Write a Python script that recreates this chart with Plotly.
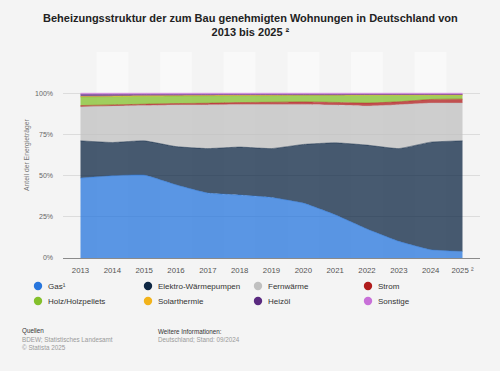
import plotly.graph_objects as go

years = [2013, 2014, 2015, 2016, 2017, 2018, 2019, 2020, 2021, 2022, 2023, 2024, 2025]
year_labels = ["2013", "2014", "2015", "2016", "2017", "2018", "2019", "2020",
               "2021", "2022", "2023", "2024", "2025 ²"]

series_names = ["Gas¹", "Elektro-Wärmepumpen", "Fernwärme", "Strom",
                "Holz/Holzpellets", "Solarthermie", "Heizöl", "Sonstige"]

gas = [48.5, 49.9, 50.3, 44.4, 39.4, 38.2, 36.7, 33.3, 26.2, 17.6, 10.1, 5.0, 4.0]
waermepumpen = [22.6, 20.2, 20.8, 23.2, 27.0, 29.1, 29.7, 35.6, 43.7, 50.9, 56.3, 65.3, 67.1]
fernwaerme = [20.6, 22.1, 21.5, 25.3, 26.5, 25.8, 26.8, 24.3, 22.9, 23.7, 26.6, 23.7, 22.9]
strom = [0.8, 0.7, 0.7, 0.8, 1.0, 1.2, 1.3, 1.5, 1.6, 1.8, 1.8, 2.2, 2.4]
holz = [5.2, 5.0, 4.8, 4.6, 4.5, 4.2, 4.0, 4.0, 4.3, 4.8, 4.0, 2.6, 2.4]
solar = [0.3, 0.3, 0.3, 0.2, 0.2, 0.2, 0.2, 0.1, 0.1, 0.1, 0.1, 0.1, 0.1]
heizoel = [1.2, 1.0, 0.8, 0.7, 0.6, 0.5, 0.5, 0.4, 0.4, 0.3, 0.3, 0.3, 0.3]
sonstige = [0.8, 0.8, 0.8, 0.8, 0.8, 0.8, 0.8, 0.8, 0.8, 0.8, 0.8, 0.8, 0.8]

series_values = [gas, waermepumpen, fernwaerme, strom, holz, solar, heizoel, sonstige]
colors = ["#2876dd", "#0f2744", "#c0c0c0", "#b01c1c",
          "#84c02c", "#f2b31b", "#5a2a80", "#c870d8"]

y_tickvals = [0, 25, 50, 75, 100, 125]
y_ticktext = ["0%", "25%", "50%", "75%", "100%", ""]

FONT = "Arial, 'Liberation Sans', Helvetica, sans-serif"
BG = "#f4f4f4"


def rgba(hex_color, a):
    h = hex_color.lstrip("#")
    r, g, b = int(h[0:2], 16), int(h[2:4], 16), int(h[4:6], 16)
    return f"rgba({r},{g},{b},{a})"


fig = go.Figure()
for name, vals, col in zip(series_names, series_values, colors):
    fig.add_trace(go.Scatter(
        x=years, y=vals, name=name, mode="lines",
        stackgroup="one",
        line=dict(width=0.6, color=rgba(col, 0.78), shape="spline", smoothing=0.4),
        fillcolor=rgba(col, 0.76),
        showlegend=False, hoverinfo="x+y+name",
    ))

shapes = []
# alternating year bands
for i, yr in enumerate(years):
    if i % 2 == 1:
        shapes.append(dict(type="rect", xref="x", yref="paper",
                           x0=yr - 0.5, x1=yr + 0.5, y0=0, y1=1,
                           fillcolor="#f9f9f9", line=dict(width=0), layer="below"))

annotations = []
# manual legend (4 columns x 2 rows)
col_x = [38, 148, 258, 368]
row_y = [286, 301]
W, H = 500, 371
ml, mr, mt, mb = 63, 20, 52, 113
pw, ph = W - ml - mr, H - mt - mb


def px_to_paper_x(px):
    return (px - ml) / pw


def px_to_paper_y(py):
    return (H - mb - py) / ph


for i, (name, col) in enumerate(zip(series_names, colors)):
    cx = col_x[i % 4]
    cy = row_y[i // 4]
    r = 4.2
    shapes.append(dict(type="circle", xref="paper", yref="paper",
                       x0=px_to_paper_x(cx - r), x1=px_to_paper_x(cx + r),
                       y0=px_to_paper_y(cy + r), y1=px_to_paper_y(cy - r),
                       fillcolor=col, line=dict(width=0)))
    annotations.append(dict(text=name, xref="paper", yref="paper",
                            x=px_to_paper_x(cx + 8), y=px_to_paper_y(cy),
                            xanchor="left", yanchor="middle", showarrow=False,
                            font=dict(size=8, color="#333333", family=FONT)))

# footer
footer = [
    ("Quellen", 20, 331, "#333333"),
    ("BDEW; Statistisches Landesamt", 20, 339.5, "#9a9a9a"),
    ("© Statista 2025", 20, 347.5, "#9a9a9a"),
    ("Weitere Informationen:", 155.5, 331, "#333333"),
    ("Deutschland; Stand: 09/2024", 155.5, 339.5, "#9a9a9a"),
]
for txt, fx, fy, fc in footer:
    annotations.append(dict(text=txt, xref="paper", yref="paper",
                            x=px_to_paper_x(fx), y=px_to_paper_y(fy),
                            xanchor="left", yanchor="middle", showarrow=False,
                            font=dict(size=6.3, color=fc, family=FONT)))

# title
annotations.append(dict(
    text="<b>Beheizungsstruktur der zum Bau genehmigten Wohnungen in Deutschland von<br>2013 bis 2025 ²</b>",
    xref="paper", yref="paper", x=px_to_paper_x(250), y=px_to_paper_y(25),
    xanchor="center", yanchor="middle", showarrow=False, align="center",
    font=dict(size=11, color="#222222", family=FONT)))

# y-axis title
annotations.append(dict(
    text="Anteil der Energieträger", xref="paper", yref="paper",
    x=px_to_paper_x(27), y=0.5, xanchor="center", yanchor="middle",
    textangle=-90, showarrow=False,
    font=dict(size=6.8, color="#777777", family=FONT)))

fig.update_layout(
    width=W, height=H,
    margin=dict(l=ml, r=mr, t=mt, b=mb, pad=0),
    paper_bgcolor=BG, plot_bgcolor=BG,
    font=dict(family=FONT, color="#555555"),
    showlegend=False,
    shapes=shapes, annotations=annotations,
    xaxis=dict(range=[2012.45, 2025.55], tickvals=years, ticktext=year_labels,
               showgrid=False, zeroline=False, showline=True, linecolor="#8a8a8a",
               linewidth=1, ticks="", ticklabelstandoff=5,
               tickfont=dict(size=7.8, color="#555555", family=FONT),
               fixedrange=True),
    yaxis=dict(range=[0, 125], tickvals=y_tickvals, ticktext=y_ticktext,
               showgrid=True, gridcolor="#dcdcdc", gridwidth=1, zeroline=False,
               showline=False, ticks="", ticklabelstandoff=9,
               tickfont=dict(size=7, color="#666666", family=FONT),
               fixedrange=True),
)

fig.write_html(
    "out.html",
    config={"displayModeBar": False},
    post_script="document.body.style.margin='0';document.body.style.overflow='hidden';",
)
